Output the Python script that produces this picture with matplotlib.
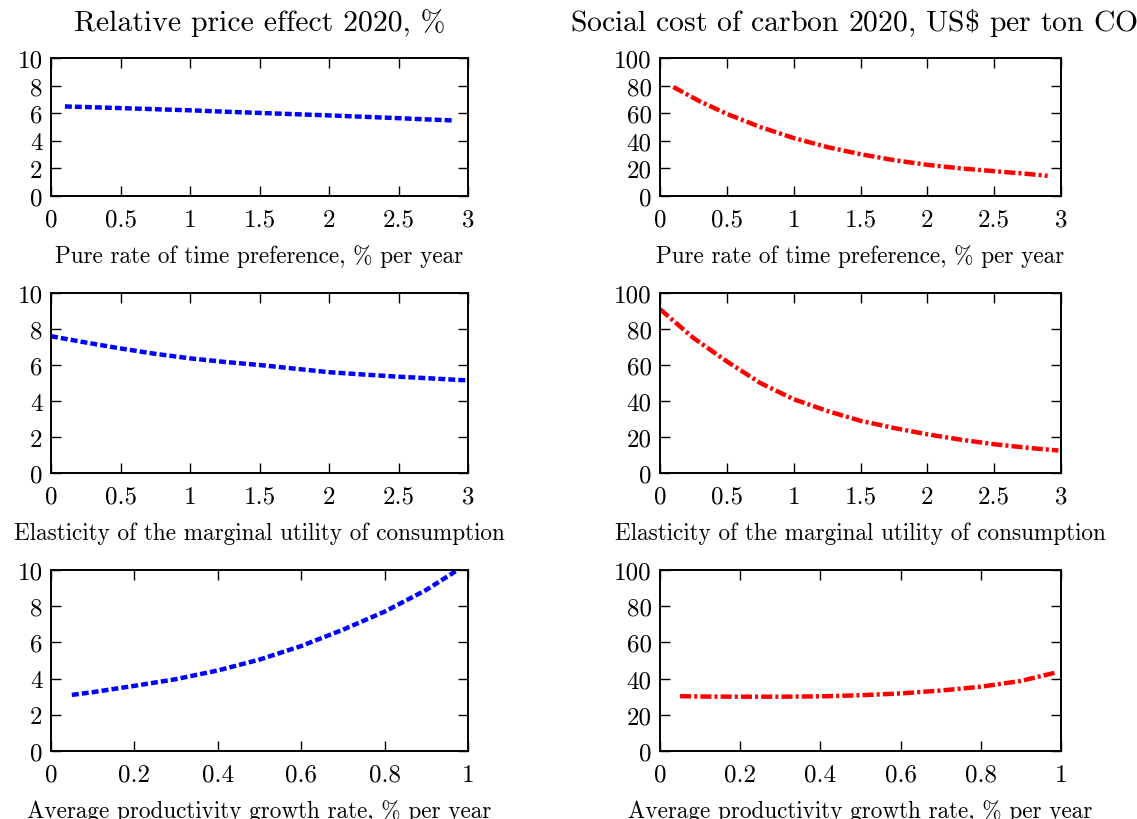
import matplotlib
matplotlib.use("Agg")
import matplotlib.pyplot as plt
from matplotlib.ticker import FixedLocator, FixedFormatter

plt.rcParams['font.family'] = 'cmr10'
plt.rcParams['mathtext.fontset'] = 'cm'
plt.rcParams['axes.formatter.use_mathtext'] = True
plt.rcParams['lines.scale_dashes'] = False

# ---- data ----
prtp_x = [0.1, 0.3, 0.5, 0.75, 1.0, 1.25, 1.5, 1.75, 2.0, 2.25, 2.5, 2.75, 2.9]
prtp_price = [6.49, 6.43, 6.37, 6.29, 6.21, 6.11, 6.02, 5.93, 5.84, 5.74, 5.64, 5.53, 5.47]
prtp_scc = [79.0, 68.5, 59.5, 50.0, 42.0, 35.5, 30.3, 26.0, 22.6, 20.0, 18.0, 16.0, 14.6]

elast_x = [0.0, 0.25, 0.5, 0.75, 1.0, 1.25, 1.5, 1.75, 2.0, 2.25, 2.5, 2.75, 2.98]
elast_price = [7.6, 7.25, 6.92, 6.62, 6.37, 6.17, 6.0, 5.8, 5.6, 5.47, 5.35, 5.25, 5.15]
elast_scc = [91.0, 75.0, 62.0, 50.0, 41.0, 34.5, 29.0, 25.0, 21.5, 18.5, 16.0, 14.0, 12.5]

growth_x = [0.05, 0.1, 0.2, 0.3, 0.4, 0.5, 0.6, 0.7, 0.8, 0.9, 0.975]
growth_price = [3.1, 3.25, 3.6, 3.97, 4.45, 5.05, 5.8, 6.7, 7.7, 8.9, 10.0]
growth_x2 = [0.05, 0.1, 0.2, 0.3, 0.4, 0.5, 0.6, 0.7, 0.8, 0.9, 0.99]
growth_scc = [30.3, 30.1, 30.0, 30.0, 30.2, 30.8, 31.8, 33.4, 35.5, 38.7, 43.5]

xticks_3 = [0, 0.5, 1, 1.5, 2, 2.5, 3]
xticklabels_3 = ["0", "0.5", "1", "1.5", "2", "2.5", "3"]
xticks_1 = [0, 0.2, 0.4, 0.6, 0.8, 1]
xticklabels_1 = ["0", "0.2", "0.4", "0.6", "0.8", "1"]
yticks_10 = [0, 2, 4, 6, 8, 10]
yticks_100 = [0, 20, 40, 60, 80, 100]

xlabels = ["Pure rate of time preference, % per year",
           "Elasticity of the marginal utility of consumption",
           "Average productivity growth rate, % per year"]
title_left = "Relative price effect 2020, %"
title_right = "Social cost of carbon 2020, US\\$ per ton CO$_2$"

# ---- layout (pixels) ----
W, H = 1137, 820
fig = plt.figure(figsize=(W / 100, H / 100), dpi=100)

cols = [(51, 468), (660, 1061)]
rows = [(59, 197), (294, 474), (571, 752)]

def rect(c, r):
    x0, x1 = c
    t, b = r
    return [x0 / W, (H - b) / H, (x1 - x0) / W, (b - t) / H]

FS_TICK = 18
FS_LABEL = 16.7
FS_TITLE = 21.4
blue_kw = dict(color='#0000ff', lw=3.2, dashes=(5, 2.2), solid_capstyle='butt', dash_capstyle='butt')
red_kw = dict(color='#ff0000', lw=3.2, dashes=(8, 2.2, 2.2, 2.2), solid_capstyle='butt', dash_capstyle='butt')

panels = [
    (0, 0, prtp_x, prtp_price, 'b', xticks_3, xticklabels_3, 3),
    (1, 0, prtp_x, prtp_scc, 'r', xticks_3, xticklabels_3, 3),
    (0, 1, elast_x, elast_price, 'b', xticks_3, xticklabels_3, 3),
    (1, 1, elast_x, elast_scc, 'r', xticks_3, xticklabels_3, 3),
    (0, 2, growth_x, growth_price, 'b', xticks_1, xticklabels_1, 1),
    (1, 2, growth_x2, growth_scc, 'r', xticks_1, xticklabels_1, 1),
]

for ci, ri, xs, ys, col, xt, xtl, xmax in panels:
    ax = fig.add_axes(rect(cols[ci], rows[ri]))
    kw = blue_kw if col == 'b' else red_kw
    ax.plot(xs, ys, **kw)
    ax.set_xlim(0, xmax)
    if col == 'b':
        ax.set_ylim(0, 10)
        yt = yticks_10
    else:
        ax.set_ylim(0, 100)
        yt = yticks_100
    ax.xaxis.set_major_locator(FixedLocator(xt))
    ax.xaxis.set_major_formatter(FixedFormatter(xtl))
    ax.yaxis.set_major_locator(FixedLocator(yt))
    ax.yaxis.set_major_formatter(FixedFormatter([str(v) for v in yt]))
    ax.tick_params(direction='in', length=7, width=1.0, top=True, right=True,
                   labelsize=FS_TICK, colors='black')
    ax.tick_params(axis='x', pad=9)
    ax.tick_params(axis='y', pad=6)
    for s in ax.spines.values():
        s.set_linewidth(1.4)
    ax.set_xlabel(xlabels[ri], fontsize=FS_LABEL, labelpad=10)
    if ri == 0:
        ax.set_title(title_left if ci == 0 else title_right, fontsize=FS_TITLE, pad=20)

fig.savefig("out.png", dpi=100)
